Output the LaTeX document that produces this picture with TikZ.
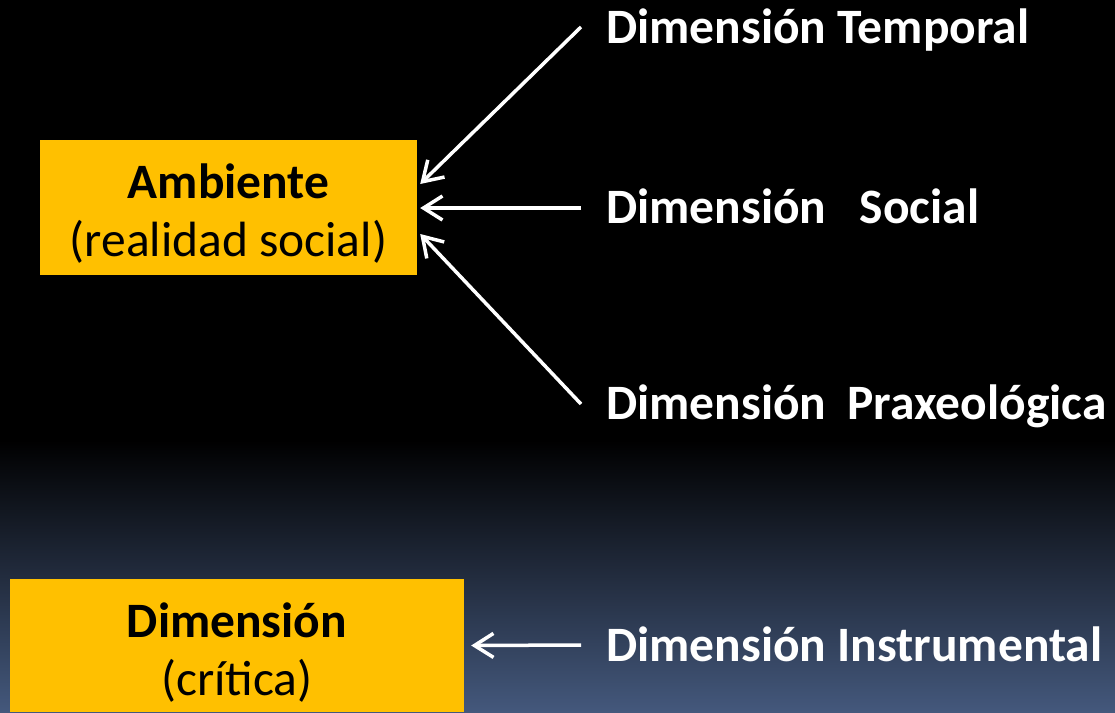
\documentclass[tikz,border=0pt]{standalone}
\usepackage{fontspec}
\setmainfont{Carlito}
\usetikzlibrary{arrows.meta}
\definecolor{boxfill}{HTML}{FFC000}
\definecolor{bgbottom}{RGB}{68,88,124}
\begin{document}
\begin{tikzpicture}[x=1pt,y=-1pt,
  box/.style={fill=boxfill, draw=none, align=center, text=black, inner sep=0pt,
    font=\fontsize{49.5}{58}\selectfont},
  lbl/.style={anchor=base west, inner sep=0pt, text=white,
    font=\fontsize{49.5}{57}\selectfont\bfseries},
  arr/.style={draw=white, line width=3.5pt,
    -{Straight Barb[length=19pt,width=24pt,line width=3.5pt]}}]
% background
\fill[black] (0,0) rectangle (1115,441);
\shade[top color=black, bottom color=bgbottom] (0,440) rectangle (1115,712);
\useasboundingbox (0,0) rectangle (1115,712);
% boxes
\node[box, minimum width=377pt, minimum height=135pt] (amb) at (228.5,207.5)
  {\rule{0pt}{46pt}\textbf{Ambiente}\\(realidad social)};
\node[box, minimum width=454pt, minimum height=133pt] (dim) at (237,645.5)
  {\rule{0pt}{49pt}\textbf{Dimensión}\\(crítica)};
% labels
\node[lbl] (temp) at (606,43) {Dimensión Temporal};
\node[lbl] (soc) at (606,223) {Dimensión\hspace{0.45em} Social};
\node[lbl] (prax) at (606,419) {Dimensión\hspace{0.2em} Praxeológica};
\node[lbl] (inst) at (606,661) {Dimensión Instrumental};
% arrow ends
\coordinate (sT) at (581,27);
\coordinate (sS) at (581,208);
\coordinate (sP) at (581,404);
\coordinate (sI) at (581,645);
\coordinate (eT) at ([xshift=3pt,yshift=23.5pt]amb.east);
\coordinate (eS) at ([xshift=3pt,yshift=-0.5pt]amb.east);
\coordinate (eP) at ([xshift=3pt,yshift=-26.5pt]amb.east);
\coordinate (eI) at ([xshift=7pt]dim.east);
\draw[arr] (sT) -- (eT);
\draw[arr] (sS) -- (eS);
\draw[arr] (sP) -- (eP);
\draw[arr] (sI) -- (eI);
\end{tikzpicture}
\end{document}
